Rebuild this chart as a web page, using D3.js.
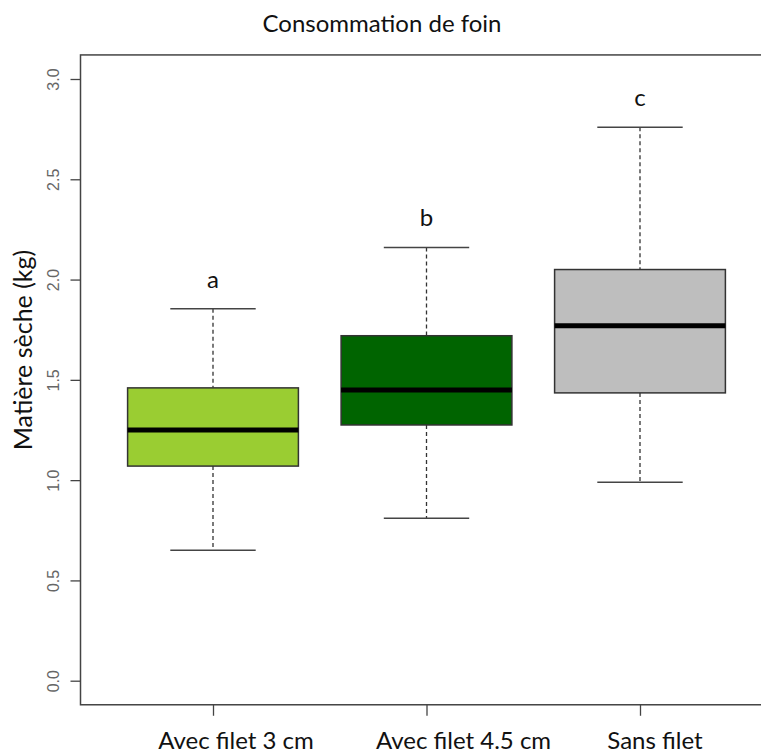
<!DOCTYPE html>
<html>
<head>
<meta charset="utf-8">
<script src="https://cdn.jsdelivr.net/npm/d3@7"></script>
<style>
  body{margin:0;background:#fff;}
  text{font-family:Lato,"Open Sans",sans-serif;}
</style>
</head>
<body>
<div id="chart"></div>
<script>
// data
let categories=[`Avec filet 3 cm`,`Avec filet 4.5 cm`,`Sans filet`];
let whiskerLow=[0.65,0.81,0.99];
let q1=[1.07,1.275,1.435];
let medians=[1.25,1.45,1.77];
let q3=[1.46,1.72,2.05];
let whiskerHigh=[1.855,2.16,2.76];
let letters=[`a`,`b`,`c`];
let colors=[`#9acd32`,`#006400`,`#bebebe`];
let yTicks=[0,0.5,1,1.5,2,2.5,3];

let W=761,H=753;
// x labels sit a bit to the right of their ticks in the original
let labelShift=[23,37,15];

let svg=d3.select(`#chart`).append(`svg`)
    .attr(`width`,W)
    .attr(`height`,H);

let y=d3.scaleLinear().domain([0,3]).range([680.7,79]);
let x=d3.scaleLinear().domain([1,3]).range([213,640]);

let plotLeft=80.5,plotTop=y(3.12),plotBottom=y(-0.12),plotRight=x(3.58);

//frame
svg.append(`rect`)
    .attr(`x`,plotLeft).attr(`y`,plotTop)
    .attr(`width`,plotRight-plotLeft).attr(`height`,plotBottom-plotTop)
    .attr(`fill`,`none`).attr(`stroke`,`#444`).attr(`stroke-width`,1.5);

//y axis
let yAxis=svg.append(`g`)
    .attr(`transform`,`translate(${plotLeft},0)`)
    .call(d3.axisLeft(y).tickValues(yTicks).tickFormat(d3.format(`.1f`)).tickSize(10).tickPadding(0));
yAxis.select(`.domain`).remove();
yAxis.selectAll(`.tick line`).attr(`stroke`,`#444`).attr(`stroke-width`,1.3);
yAxis.selectAll(`.tick text`)
    .attr(`transform`,`rotate(-90)`)
    .attr(`x`,0).attr(`y`,-22).attr(`dy`,0)
    .attr(`text-anchor`,`middle`)
    .style(`font-family`,`"Liberation Sans",Arial,sans-serif`)
    .style(`font-size`,`16px`)
    .attr(`fill`,`#666`);

//x axis
let xAxis=svg.append(`g`)
    .attr(`transform`,`translate(0,${plotBottom})`)
    .call(d3.axisBottom(x).tickValues([1,2,3]).tickFormat(``).tickSize(11));
xAxis.select(`.domain`).remove();
xAxis.selectAll(`.tick line`).attr(`stroke`,`#444`).attr(`stroke-width`,1.3);

svg.append(`g`).selectAll(`text`)
    .data(categories)
    .enter()
    .append(`text`)
    .attr(`x`,(d,i)=>x(i+1)+labelShift[i])
    .attr(`y`,749)
    .attr(`text-anchor`,`middle`)
    .style(`font-size`,`24px`)
    .attr(`fill`,`#111`)
    .text(d=>d);

//boxes
let boxW=0.8,capW=0.4;
let boxes=svg.append(`g`).selectAll(`g`)
    .data(categories)
    .enter()
    .append(`g`);

boxes.append(`line`)
    .attr(`x1`,(d,i)=>x(i+1)).attr(`x2`,(d,i)=>x(i+1))
    .attr(`y1`,(d,i)=>y(whiskerHigh[i])).attr(`y2`,(d,i)=>y(q3[i]))
    .attr(`stroke`,`#333`).attr(`stroke-width`,1.3).attr(`stroke-dasharray`,`4,3`);
boxes.append(`line`)
    .attr(`x1`,(d,i)=>x(i+1)).attr(`x2`,(d,i)=>x(i+1))
    .attr(`y1`,(d,i)=>y(q1[i])).attr(`y2`,(d,i)=>y(whiskerLow[i]))
    .attr(`stroke`,`#333`).attr(`stroke-width`,1.3).attr(`stroke-dasharray`,`4,3`);
boxes.append(`line`)
    .attr(`x1`,(d,i)=>x(i+1-capW/2)).attr(`x2`,(d,i)=>x(i+1+capW/2))
    .attr(`y1`,(d,i)=>y(whiskerHigh[i])).attr(`y2`,(d,i)=>y(whiskerHigh[i]))
    .attr(`stroke`,`#444`).attr(`stroke-width`,1.5);
boxes.append(`line`)
    .attr(`x1`,(d,i)=>x(i+1-capW/2)).attr(`x2`,(d,i)=>x(i+1+capW/2))
    .attr(`y1`,(d,i)=>y(whiskerLow[i])).attr(`y2`,(d,i)=>y(whiskerLow[i]))
    .attr(`stroke`,`#444`).attr(`stroke-width`,1.5);
boxes.append(`rect`)
    .attr(`x`,(d,i)=>x(i+1-boxW/2))
    .attr(`width`,(d,i)=>x(i+1+boxW/2)-x(i+1-boxW/2))
    .attr(`y`,(d,i)=>y(q3[i]))
    .attr(`height`,(d,i)=>y(q1[i])-y(q3[i]))
    .attr(`fill`,(d,i)=>colors[i])
    .attr(`stroke`,`#333`).attr(`stroke-width`,1.5);
boxes.append(`line`)
    .attr(`x1`,(d,i)=>x(i+1-boxW/2)).attr(`x2`,(d,i)=>x(i+1+boxW/2))
    .attr(`y1`,(d,i)=>y(medians[i])).attr(`y2`,(d,i)=>y(medians[i]))
    .attr(`stroke`,`#000`).attr(`stroke-width`,5);

//significance letters
boxes.append(`text`)
    .attr(`x`,(d,i)=>x(i+1))
    .attr(`y`,(d,i)=>y(whiskerHigh[i])-21)
    .attr(`text-anchor`,`middle`)
    .style(`font-size`,`24px`)
    .attr(`fill`,`#111`)
    .text((d,i)=>letters[i]);

//titles
svg.append(`text`)
    .attr(`x`,382).attr(`y`,32)
    .attr(`text-anchor`,`middle`)
    .style(`font-size`,`24px`)
    .attr(`fill`,`#111`)
    .text(`Consommation de foin`);

svg.append(`text`)
    .attr(`transform`,`translate(32,350) rotate(-90)`)
    .attr(`text-anchor`,`middle`)
    .style(`font-size`,`25px`)
    .attr(`fill`,`#111`)
    .text(`Matière sèche (kg)`);
</script>
</body>
</html>
